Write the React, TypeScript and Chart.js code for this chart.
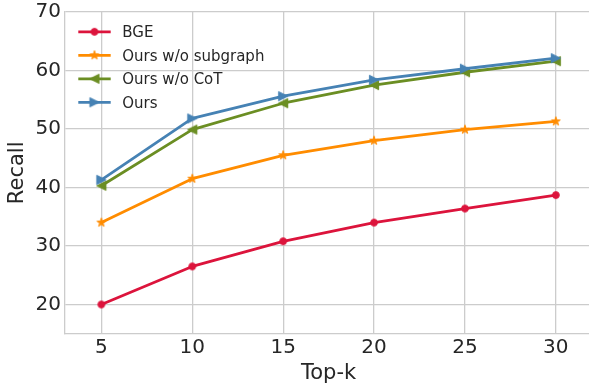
import React, { useEffect, useRef } from 'react';
import { Chart, registerables } from 'chart.js';

Chart.register(...registerables);

const TOP_K = [5, 10, 15, 20, 25, 30];
const BGE = [20.0, 26.5, 30.8, 34.0, 36.4, 38.7];
const NO_SUBGRAPH = [34.0, 41.5, 45.5, 48.0, 49.9, 51.3];
const NO_COT = [40.3, 49.9, 54.4, 57.5, 59.7, 61.6];
const OURS = [41.3, 51.8, 55.6, 58.4, 60.3, 62.1];
const SERIES_LABELS = ['BGE', 'Ours w/o subgraph', 'Ours w/o CoT', 'Ours'];
const X_TICKS = [5, 10, 15, 20, 25, 30];
const Y_TICKS = [20, 30, 40, 50, 60, 70];
const X_TITLE = 'Top-k';
const Y_TITLE = 'Recall';

const COLORS = ['#DC143C', '#FF8C00', '#6B8E23', '#4682B4'];
const SHAPES = ['circle', 'star', 'left', 'right'];
const TEXT = '#262626';
const GRID = '#cccccc';
const FONT = '"DejaVu Sans", sans-serif';

function makeMarker(shape: string, color: string): HTMLCanvasElement {
  const S = 18;
  const c = document.createElement('canvas');
  c.width = S;
  c.height = S;
  const g = c.getContext('2d')!;
  const cx = S / 2;
  const cy = S / 2;
  g.fillStyle = color;
  g.strokeStyle = color;
  g.lineWidth = 1;
  g.lineJoin = 'miter';
  g.beginPath();
  if (shape === 'circle') {
    g.arc(cx, cy, 3.4, 0, Math.PI * 2);
  } else if (shape === 'star') {
    const R = 4.6;
    const r = R * 0.382;
    for (let i = 0; i < 10; i++) {
      const a = -Math.PI / 2 + (i * Math.PI) / 5;
      const rad = i % 2 === 0 ? R : r;
      const px = cx + Math.cos(a) * rad;
      const py = cy + Math.sin(a) * rad;
      if (i === 0) g.moveTo(px, py);
      else g.lineTo(px, py);
    }
  } else if (shape === 'left') {
    const h = 4.6;
    g.moveTo(cx - h, cy);
    g.lineTo(cx + h, cy - h);
    g.lineTo(cx + h, cy + h);
  } else {
    const h = 4.6;
    g.moveTo(cx + h, cy);
    g.lineTo(cx - h, cy - h);
    g.lineTo(cx - h, cy + h);
  }
  g.closePath();
  g.fill();
  g.stroke();
  return c;
}

const legendPlugin = {
  id: 'mplLegend',
  afterDraw(chart: any) {
    const ctx = chart.ctx;
    chart.data.datasets.forEach((ds: any, i: number) => {
      const y = 31.8 + i * 23.5;
      ctx.save();
      ctx.strokeStyle = ds.borderColor;
      ctx.lineWidth = ds.borderWidth;
      ctx.beginPath();
      ctx.moveTo(78.3, y);
      ctx.lineTo(110.7, y);
      ctx.stroke();
      const img = ds.pointStyle as HTMLCanvasElement;
      ctx.drawImage(img, 94.5 - img.width / 2, y - img.height / 2);
      ctx.fillStyle = TEXT;
      ctx.font = '15px ' + FONT;
      ctx.textBaseline = 'alphabetic';
      ctx.textAlign = 'left';
      ctx.fillText(ds.label, 122.3, y + 5.5);
      ctx.restore();
    });
  },
};

export default function App() {
  const ref = useRef<HTMLCanvasElement | null>(null);

  useEffect(() => {
    if (!ref.current) return;
    const seriesValues = [BGE, NO_SUBGRAPH, NO_COT, OURS];
    const datasets = seriesValues.map((vals, i) => ({
      label: SERIES_LABELS[i],
      data: TOP_K.map((x, j) => ({ x, y: vals[j] })),
      borderColor: COLORS[i],
      backgroundColor: COLORS[i],
      borderWidth: 2.8,
      borderJoinStyle: 'round' as const,
      pointStyle: makeMarker(SHAPES[i], COLORS[i]),
      pointRadius: 5,
      pointHoverRadius: 5,
      tension: 0,
      order: 4 - i,
    }));

    const chart = new Chart(ref.current, {
      type: 'line',
      data: { datasets },
      plugins: [legendPlugin],
      options: {
        responsive: false,
        animation: false,
        layout: { padding: { top: 12, right: 1, left: 0, bottom: 0 } },
        plugins: {
          legend: { display: false },
          tooltip: { enabled: false },
        },
        scales: {
          x: {
            type: 'linear',
            min: 3,
            max: 32,
            afterBuildTicks: (s: any) => {
              s.ticks = X_TICKS.map((v) => ({ value: v }));
            },
            afterFit: (s: any) => {
              s.height = 56.3;
              s.paddingLeft = 0;
              s.paddingRight = 0;
            },
            grid: { color: GRID, lineWidth: 1.3, drawTicks: false },
            border: { color: GRID, width: 1.3 },
            ticks: {
              font: { size: 20, family: FONT },
              color: TEXT,
              padding: 2,
              maxRotation: 0,
              autoSkip: false,
            },
            title: {
              display: true,
              text: X_TITLE,
              font: { size: 21, family: FONT },
              color: TEXT,
              padding: { top: 0, bottom: 3.4 },
            },
          },
          y: {
            type: 'linear',
            min: 15,
            max: 70,
            afterBuildTicks: (s: any) => {
              s.ticks = Y_TICKS.map((v) => ({ value: v }));
            },
            afterFit: (s: any) => {
              s.width = 65;
              s.paddingTop = 0;
              s.paddingBottom = 0;
            },
            grid: { color: GRID, lineWidth: 1.3, drawTicks: false },
            border: { color: GRID, width: 1.3 },
            ticks: {
              font: { size: 20, family: FONT },
              color: TEXT,
              padding: 4,
              autoSkip: false,
            },
            title: {
              display: true,
              text: Y_TITLE,
              font: { size: 21, family: FONT },
              color: TEXT,
              padding: { top: 5, bottom: 0 },
            },
          },
        },
      },
    });
    return () => chart.destroy();
  }, []);

  return (
    <div style={{ position: 'fixed', left: 0, top: 0, width: 589, height: 390, overflow: 'hidden', background: '#fff' }}>
      <canvas ref={ref} width={600} height={390} style={{ width: 600, height: 390, display: 'block' }} />
    </div>
  );
}
